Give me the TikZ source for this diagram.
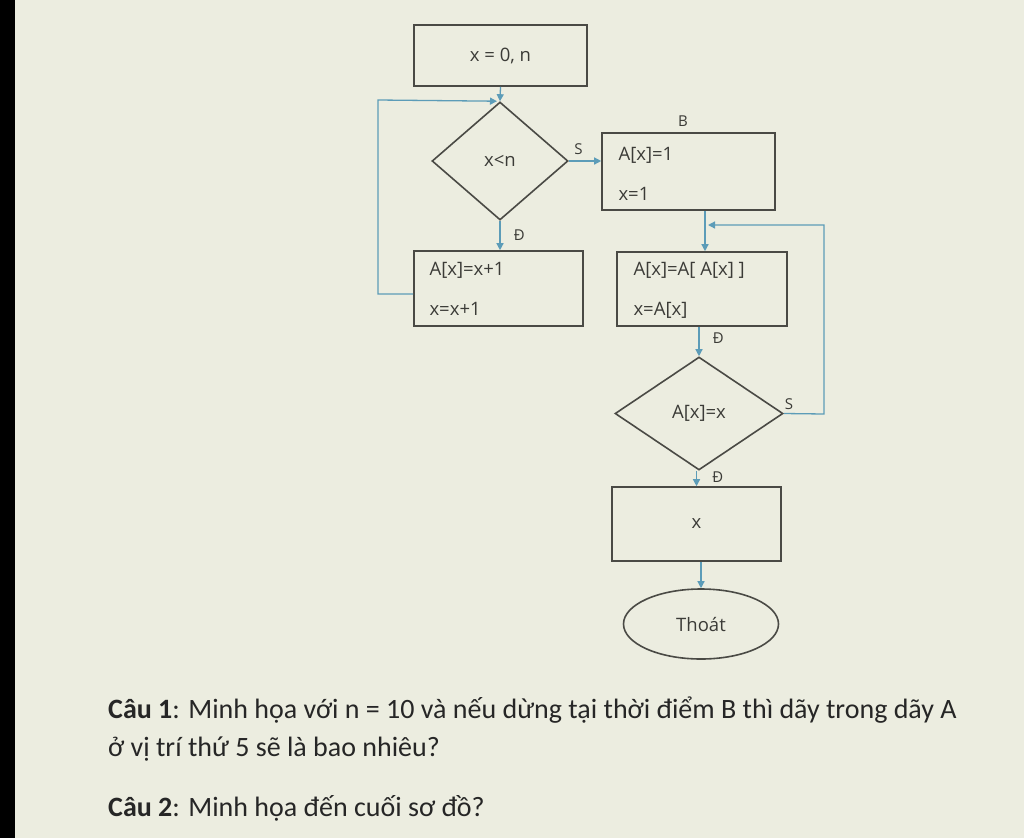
\documentclass[tikz,border=0pt]{standalone}
\usepackage{fontspec}
\setmainfont{Carlito}
\newfontfamily\chartfont{Open Sans}
\usetikzlibrary{shapes.geometric,arrows.meta}
\definecolor{paper}{HTML}{ECEDE0}
\definecolor{edge}{HTML}{4A4A45}
\definecolor{wire}{HTML}{5C9CB8}
\tikzset{
  lbl/.style={font=\chartfont\fontsize{18.5}{18.5}\selectfont, text=edge!80!black},
  tag/.style={font=\chartfont\fontsize{15}{15}\selectfont, text=edge!80!black},
  boxed/.style={draw=edge, line width=1.6pt, inner sep=0pt},
  dia/.style={draw=edge, line width=1.6pt, diamond, aspect=1.15, inner sep=0pt},
  flow/.style={draw=wire, line width=1.3pt, -{Triangle[length=7pt,width=7pt]}},
  qtext/.style={font=\fontsize{28}{28}\selectfont, text=black!85, anchor=west, inner sep=0pt}
}
\begin{document}
\begin{tikzpicture}[x=1pt,y=-1pt]
\fill[paper] (0,0) rectangle (1024,838);
\fill[black] (0,0) rectangle (15,838);
\useasboundingbox (0,0) rectangle (1024,838);

% boxes
\node[boxed, minimum width=173pt, minimum height=61pt] (start) at (500.5,55.5) {};
\node[lbl] at (start.center) {x = 0, n};

\node[dia, minimum width=136pt, minimum height=118pt] (d1) at (500,161) {};
\node[lbl] at (d1.center) {x<n};

\node[boxed, minimum width=173pt, minimum height=77pt] (b) at (688.5,171.5) {};
\node[lbl, anchor=west] at (615,155) {A[x]=1};
\node[lbl, anchor=west] at (615,194) {x=1};
\node[tag] (btag) at (683,121) {B};

\node[boxed, minimum width=169pt, minimum height=75pt] (c) at (498.5,288.5) {};
\node[lbl, anchor=west] at (426,270) {A[x]=x+1};
\node[lbl, anchor=west] at (426,309) {x=x+1};

\node[boxed, minimum width=170pt, minimum height=74pt] (e) at (702,289) {};
\node[lbl, anchor=west] at (630,270) {A[x]=A[ A[x] ]};
\node[lbl, anchor=west] at (630,310) {x=A[x]};

\node[dia, minimum width=168pt, minimum height=113pt] (d2) at (699,413.5) {};
\node[lbl] at (d2.center) {A[x]=x};

\node[boxed, minimum width=169pt, minimum height=74pt] (f) at (696.5,524) {};
\node[lbl] at (f.center) {x};

\node[boxed, ellipse, minimum width=155pt, minimum height=70pt] (g) at (701,624) {};
\node[lbl] at (g.center) {Thoát};

% connectors
\coordinate (l1) at (378,294);
\coordinate (l2) at (378,100);
\draw[flow] (start.south) -- (d1.north);
\draw[flow] (c.west |- l1) -- (l1) -- (l2) -- ([xshift=-3pt]d1.north);
\draw[flow] (d1.east) -- (b.west |- d1.east) node[tag, pos=0.3, above=2pt] {S};
\draw[flow] (d1.south) -- (c.north -| d1.south) node[tag, pos=0.5, right=10pt] {Đ};

\coordinate (bx) at (705,210);
\draw[flow] (b.south -| bx) -- (e.north -| bx);
\coordinate (r1) at (824,414);
\coordinate (r2) at (824,225);
\coordinate (r3) at (708,225);
\draw[flow] (d2.east) -- (r1) -- (r2) -- (r3);
\node[tag] at (789,404) {S};

\draw[flow] (e.south -| d2.north) -- (d2.north) node[tag, pos=0.4, right=10pt] {Đ};
\draw[flow] (d2.south -| f.north) -- (f.north) node[tag, pos=0.4, right=12pt] {Đ};
\draw[flow] (f.south -| g.north) -- (g.north);

% questions
\node[qtext] (q1) at (108,710) {\textbf{Câu 1}: Minh họa với n = 10 và nếu dừng tại thời điểm B thì dãy trong dãy A};
\node[qtext] (q1b) at (108,749) {ở vị trí thứ 5 sẽ là bao nhiêu?};
\node[qtext] (q2) at (108,808) {\textbf{Câu 2}: Minh họa đến cuối sơ đồ?};
\end{tikzpicture}
\end{document}
